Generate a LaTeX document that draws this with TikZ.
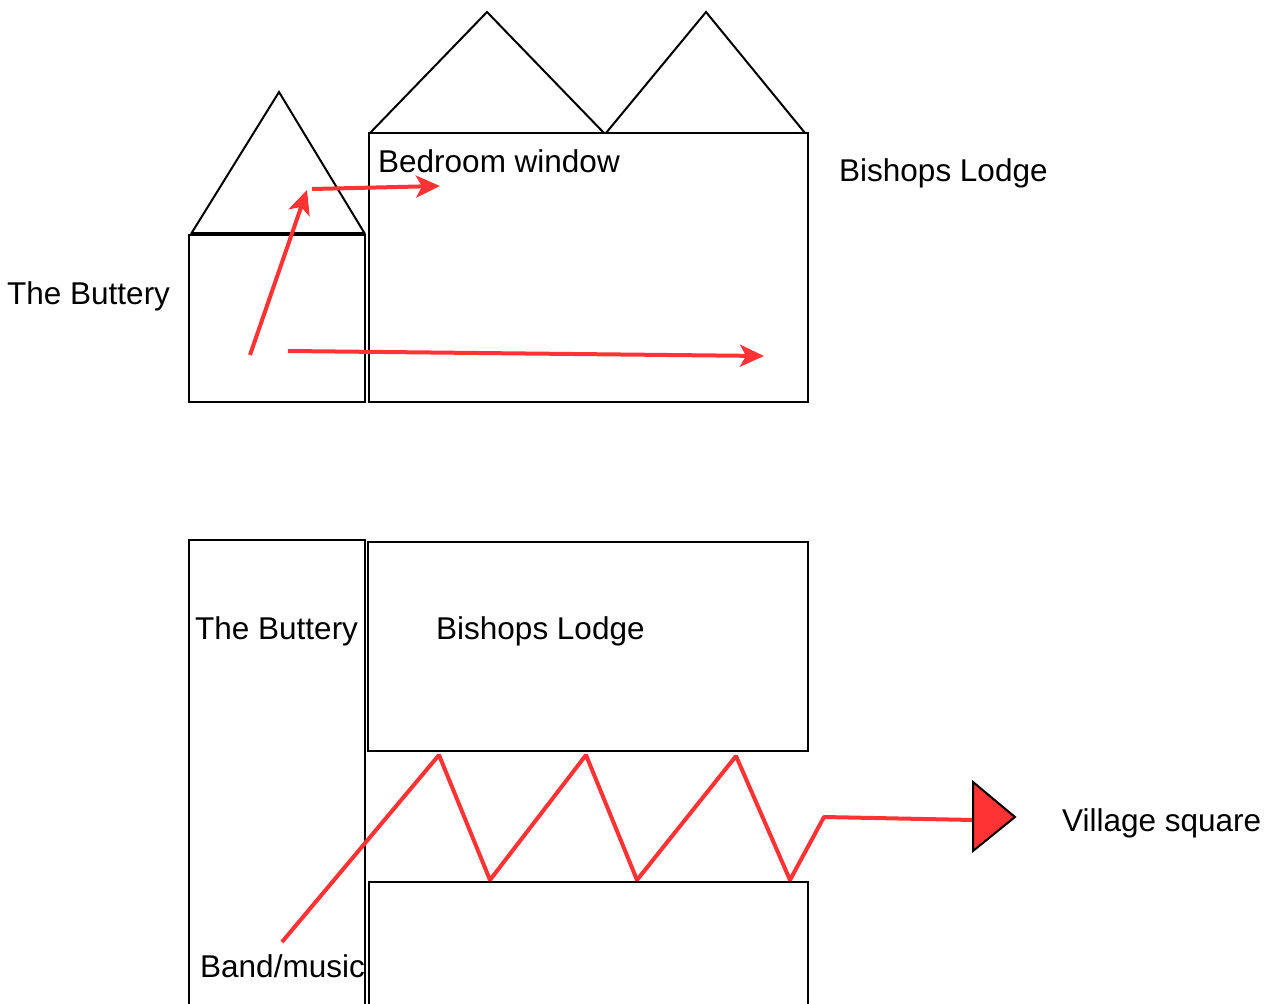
\documentclass[tikz,border=0pt]{standalone}
\usepackage{fontspec}
\setmainfont{Liberation Sans}
\usetikzlibrary{arrows.meta}
\definecolor{redline}{HTML}{FF3333}
\tikzset{
  wall/.style={draw=black,line width=2pt,line join=miter},
  lbl/.style={inner sep=0pt,anchor=base west,font=\fontsize{31.5}{36}\selectfont},
  redpath/.style={draw=redline,line width=4pt},
  redarrow/.style={redpath,-{Stealth[length=24pt,width=22pt,inset=6pt]}},
}
\begin{document}
\begin{tikzpicture}[x=1pt,y=-1pt]
\useasboundingbox (0,0) rectangle (1272,1004);
% ---------- Top scene ----------
% The Buttery (small house)
\draw[wall] (191,234) -- (279,92) -- (365,234);
\draw[wall] (189,235) rectangle (365,402);
\draw[black,line width=3.5pt] (191,234) -- (365,234);
% Bishops Lodge (large house)
\draw[wall] (369,133) rectangle (808,402);
\draw[wall] (370,133) -- (487,12) -- (604,133);
\draw[wall] (606,133) -- (706,12) -- (805,133);
% labels
\node[lbl] (bw) at (378,172) {Bedroom window};
\node[lbl] (bl1) at (839,181) {Bishops Lodge};
\node[lbl] (tb1) at (7,304) {The Buttery};
% sound arrows
\coordinate (a1s) at (250,355);
\coordinate (a1e) at (307,190);
\coordinate (a2s) at (312,189);
\coordinate (a2e) at (440,186);
\coordinate (a3s) at (288,351);
\coordinate (a3e) at (764,356);
\draw[redarrow] (a1s) -- (a1e);
\draw[redarrow] (a2s) -- (a2e);
\draw[redarrow] (a3s) -- (a3e);
% ---------- Bottom scene (plan) ----------
\node[lbl] (bm) at (200,977) {Band/music};
\draw[wall] (189,1010) -- (189,540) -- (365,540) -- (365,1010);
\draw[wall] (368,542) rectangle (808,751);
\draw[wall,fill=white] (369,1010) -- (369,882) -- (808,882) -- (808,1010);
\node[lbl] (tb2) at (195,639) {The Buttery};
\node[lbl] (bl2) at (436,639) {Bishops Lodge};
\node[lbl] (vs) at (1062,831) {Village square};
% zigzag sound path
\coordinate (z0) at (282,942);
\coordinate (z1) at (439,755);
\coordinate (z2) at (490,880);
\coordinate (z3) at (586,755);
\coordinate (z4) at (637,880);
\coordinate (z5) at (736,756);
\coordinate (z6) at (790,880);
\coordinate (z7) at (824,817);
\coordinate (z8) at (974,820);
\draw[redpath,line join=bevel] (z0) -- (z1) -- (z2) -- (z3) -- (z4) -- (z5) -- (z6) -- (z7) -- (z8);
\draw[black,line width=2pt,fill=redline,line join=miter] (973,782) -- (1015,817) -- (973,851) -- cycle;
\end{tikzpicture}
\end{document}
